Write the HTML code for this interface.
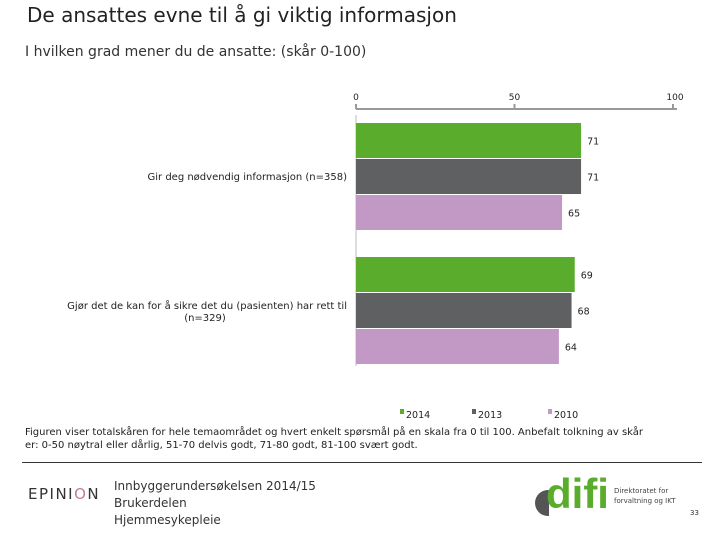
<!DOCTYPE html>
<html><head><meta charset="utf-8"><style>
body{margin:0;width:720px;height:540px;background:#fff;font-family:"DejaVu Sans","Liberation Sans",sans-serif;position:relative;overflow:hidden;color:#222}
.t{position:absolute;white-space:nowrap}
</style></head><body>
<div class="t" style="left:27px;top:3px;font-size:20px;color:#222">De ansattes evne til å gi viktig informasjon</div>
<div class="t" style="left:25px;top:44px;font-size:14px;color:#333">I hvilken grad mener du de ansatte: (skår 0-100)</div>
<svg id="chart" width="720" height="540" style="position:absolute;left:0;top:0"></svg>
<div class="t" style="left:25px;top:426px;font-size:10px;line-height:13px;color:#222">Figuren viser totalskåren for hele temaområdet og hvert enkelt spørsmål på en skala fra 0 til 100. Anbefalt tolkning av skår<br>er: 0-50 nøytral eller dårlig, 51-70 delvis godt, 71-80 godt, 81-100 svært godt.</div>
<div style="position:absolute;left:22px;top:462px;width:680px;height:1px;background:#333"></div>
<div class="t" style="left:28px;top:485px;font-size:15px;letter-spacing:1.5px;color:#333">EPINI<span style="color:#c08090">O</span>N</div>
<div class="t" style="left:114px;top:478px;font-size:12px;line-height:17px;color:#333">Innbyggerundersøkelsen 2014/15<br>Brukerdelen<br>Hjemmesykepleie</div>
<div style="position:absolute;left:535px;top:478px;width:80px;height:40px">
<div style="position:absolute;left:0;top:12px;width:14px;height:26px;border-radius:13px 0 0 13px;background:#555"></div>
<div class="t" style="left:11px;top:-8px;font-size:42px;font-weight:bold;color:#5aac2c;letter-spacing:0px;font-family:'Liberation Sans',sans-serif">difi</div>
</div>
<div class="t" style="left:614px;top:486px;font-size:7px;line-height:10px;color:#444">Direktoratet for<br>forvaltning og IKT</div>
<div class="t" style="left:690px;top:509px;font-size:7px;color:#333">33</div>
<script>
const categories=["Gir deg nødvendig informasjon (n=358)","Gjør det de kan for å sikre det du (pasienten) har rett til (n=329)"];
const series=["2014","2013","2010"];
const values2014=[71,69];
const values2013=[71,68];
const values2010=[65,64];
const ticks=[0,50,100];
const colors=["#5aac2c","#5f6062","#c298c4"];
const svg=document.getElementById('chart');
const NS='http://www.w3.org/2000/svg';
const FF='DejaVu Sans';
const x0=356,x1=673;
const xs=v=>x0+(x1-x0)*v/100;
function el(tag,attrs){const e=document.createElementNS(NS,tag);for(const k in attrs)e.setAttribute(k,attrs[k]);svg.appendChild(e);return e;}
let ax=el('line',{x1:x0,y1:109,x2:x1+4,y2:109,stroke:'#999','stroke-width':2});


let vy=el('line',{x1:x0,y1:115,x2:x0,y2:366,stroke:'#bbb','stroke-width':1});


ticks.forEach(t=>{
 let l=el('line',{x1:xs(t),y1:104,x2:xs(t),y2:109,stroke:'#999','stroke-width':2});
 
 
 let tx=el('text',{x:xs(t)+(t==100?2:0),y:100,'font-size':9,'text-anchor':'middle',fill:'#222','font-family':FF});
 tx.textContent=t;
 
 
});
const data=[values2014,values2013,values2010];
const groupTop=[123,257],bh=35,gap=1;
categories.forEach((c,i)=>{
 data.forEach((arr,s)=>{
  const y=groupTop[i]+s*(bh+gap);
  let r=el('rect',{x:x0,y:y,width:xs(arr[i])-x0,height:bh,fill:colors[s]});
  
  
  let t=el('text',{x:xs(arr[i])+6,y:y+bh/2+4,'font-size':9.5,fill:'#222','font-family':FF});
  t.textContent=arr[i];
  
  
 });
});
let l1=el('text',{x:347,y:180,'font-size':10,'text-anchor':'end',fill:'#222','font-family':FF});
l1.textContent=categories[0];


const parts=["Gjør det de kan for å sikre det du (pasienten) har rett til","(n=329)"];
parts.forEach((p,k)=>{
 let t=el('text',{x:k==0?347:205,y:309+k*12,'font-size':10,'text-anchor':k==0?'end':'middle',fill:'#222','font-family':FF});
 t.textContent=p;
 
 
});
const legX=[400,472,548];
series.forEach((s,k)=>{
 let r=el('rect',{x:legX[k],y:409,width:4,height:5,fill:colors[k]});
 
 
 let t=el('text',{x:legX[k]+6,y:418,'font-size':9.5,fill:'#222','font-family':FF});
 t.textContent=s;
 
 
});
</script>
</body></html>
